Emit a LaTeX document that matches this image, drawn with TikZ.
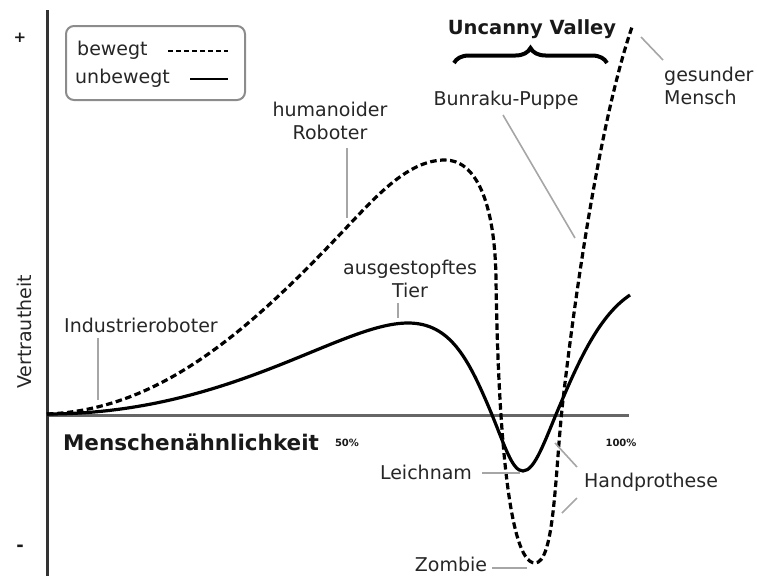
\documentclass[tikz,border=0pt]{standalone}
\usepackage{fontspec}
\setmainfont{DejaVu Sans}
\usetikzlibrary{decorations.pathreplacing}
\begin{document}
\begin{tikzpicture}[x=1pt,y=-1pt,
  lbl/.style={font=\fontsize{19}{23}\selectfont, inner sep=0pt, align=center, text=black!85},
  bold/.style={font=\fontsize{#1}{#1}\selectfont\bfseries, inner sep=0pt, text=black!90},
  leader/.style={draw=black!35, line width=1.6pt},
  moved/.style={line width=3.2pt, dash pattern=on 6.5pt off 3.5pt, black},
  still/.style={line width=3.2pt, black}]
\useasboundingbox (0,0) rectangle (757,576);

% axes
\coordinate (ytop) at (47,10);
\coordinate (ybot) at (47,576);
\coordinate (x0) at (47,415);
\coordinate (x1) at (629,415);
\draw[draw=black!60, line width=3pt] (x0) -- (x1);
\draw[draw=black!80, line width=3pt] (ytop) -- (ybot);

\node[bold=15] (plus) at (20,38) {+};
\node[bold=18] (minus) at (20,548) {-};
\node[lbl, rotate=90, anchor=base] (vert) at (31,332) {Vertrautheit};
\node[bold=21.5] (mensch) at (191,442) {Menschenähnlichkeit};
\node[bold=10] (p50) at (347,443) {50\%};
\node[bold=10] (p100) at (621,443) {100\%};

% legend
\node[draw=black!45, line width=2pt, rounded corners=8pt, minimum width=179pt, minimum height=74pt, inner sep=0pt] (legend) at (155.5,63) {};
\node[lbl, anchor=west] (lb) at (77,50) {bewegt};
\node[lbl, anchor=west] (lu) at (75,78) {unbewegt};
\coordinate (lb1) at (168,51); \coordinate (lb2) at (228,51);
\coordinate (lu1) at (190,79); \coordinate (lu2) at (228,79);
\draw[line width=2.4pt, dash pattern=on 5pt off 3pt] (lb1) -- (lb2);
\draw[line width=1.5pt] (lu1) -- (lu2);

% uncanny valley
\node[bold=19.5] (uv) at (532,29) {Uncanny Valley};
\coordinate (br1) at (454,63); \coordinate (br2) at (607,63);
\draw[line width=4pt, decorate, decoration={brace, amplitude=15pt}] (br1) -- (br2);

% curves
\coordinate (o) at (47,414);
\coordinate (dpk) at (445,160);
\coordinate (dmin) at (535,563);
\coordinate (dend) at (632,27);
\draw[moved] (o) .. controls (160,410) and (250,330) .. (347,227)
  .. controls (380,192) and (410,160) .. (dpk)
  .. controls (475,160) and (495,200) .. (496,280)
  .. controls (498,420) and (508,563) .. (dmin)
  .. controls (555,563) and (555,470) .. (563,400)
  .. controls (575,295) and (600,120) .. (dend);
\coordinate (spk) at (408,323);
\coordinate (smin) at (523,471);
\coordinate (send) at (630,295);
\draw[still] (o) .. controls (230,414) and (340,323) .. (spk)
  .. controls (450,323) and (468,358) .. (490,410)
  .. controls (505,446) and (512,471) .. (smin)
  .. controls (535,471) and (545,440) .. (560,405)
  .. controls (580,358) and (600,315) .. (send);

% labels and leaders
\node[lbl] (hr) at (330,121) {humanoider\\Roboter};
\coordinate (hr1) at (347,148); \coordinate (hr2) at (347,218);
\draw[leader] (hr1) -- (hr2);

\node[lbl] (bp) at (506,100) {Bunraku-Puppe};
\coordinate (bp1) at (503,115); \coordinate (bp2) at (575,238);
\draw[leader] (bp1) -- (bp2);

\node[lbl, align=left, anchor=west] (gm) at (664,86) {gesunder\\Mensch};
\coordinate (gm1) at (641,37); \coordinate (gm2) at (663,60);
\draw[leader] (gm1) -- (gm2);

\node[lbl] (at) at (410,279) {ausgestopftes\\Tier};
\coordinate (at1) at (398,303); \coordinate (at2) at (398,318);
\draw[leader] (at1) -- (at2);

\node[lbl] (ir) at (141,325) {Industrieroboter};
\coordinate (ir1) at (98,338); \coordinate (ir2) at (98,400);
\draw[leader] (ir1) -- (ir2);

\node[lbl] (le) at (426,472) {Leichnam};
\coordinate (le1) at (482,473); \coordinate (le2) at (520,473);
\draw[leader] (le1) -- (le2);

\node[lbl] (hp) at (651,482) {Handprothese};
\coordinate (hp1) at (555,443); \coordinate (hp2) at (577,467);
\coordinate (hp3) at (577,498); \coordinate (hp4) at (562,513);
\draw[leader] (hp1) -- (hp2);
\draw[leader] (hp3) -- (hp4);

\node[lbl] (zo) at (451,564) {Zombie};
\coordinate (zo1) at (492,568); \coordinate (zo2) at (527,568);
\draw[leader] (zo1) -- (zo2);
\end{tikzpicture}
\end{document}
